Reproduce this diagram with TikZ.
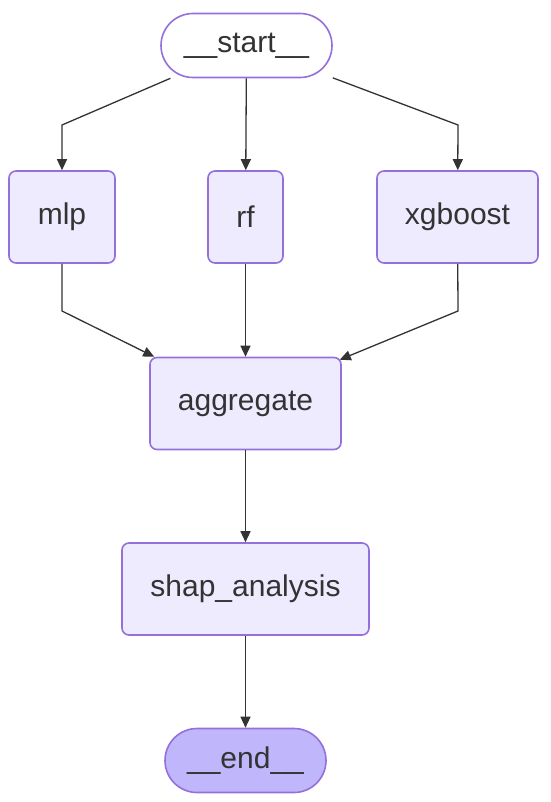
\documentclass[tikz,border=0pt]{standalone}
\usepackage{fontspec}
\setmainfont{Liberation Sans}
\usetikzlibrary{arrows.meta,calc}

\definecolor{nodefill}{HTML}{EEEBFF}
\definecolor{nodeline}{HTML}{9370DB}
\definecolor{endfill}{HTML}{BFB6FC}
\definecolor{inkgray}{HTML}{333333}

\begin{document}
\begin{tikzpicture}[
    x=1pt, y=-1pt,
    font=\fontsize{30}{36}\selectfont,
    >={Triangle[length=11pt,width=10pt]},
    task/.style={
        rectangle,
        rounded corners=7pt,
        draw=nodeline,
        fill=nodefill,
        line width=1.6pt,
        minimum height=92pt,
        text=inkgray,
        inner sep=0pt
    },
    terminal/.style={
        rectangle,
        rounded corners=32pt,
        draw=nodeline,
        line width=1.6pt,
        minimum height=64pt,
        text=inkgray,
        inner sep=0pt
    },
    flow/.style={->, line width=1.3pt, draw=inkgray}
]
\useasboundingbox (0,0) rectangle (550,802);

\node[terminal, fill=white, minimum width=171pt] (start) at (246.5,45.5) {\_\_start\_\_};

\node[task, minimum width=106pt] (mlp) at (62,217) {mlp};
\node[task, minimum width=75pt] (rf) at (245.5,217) {rf};
\node[task, minimum width=161pt] (xgboost) at (457.5,217) {xgboost};

\node[task, minimum width=191pt] (aggregate) at (245.5,403.5) {aggregate};
\node[task, minimum width=247pt] (shap) at (245.5,589) {shap\_analysis};

\node[terminal, fill=endfill, minimum width=161pt] (end) at (245.5,760.5) {\_\_end\_\_};

% bends of the side branches
\coordinate (mlpin) at (62,125);
\coordinate (xgbin) at (458,125);
\coordinate (mlpout) at (62,311);
\coordinate (xgbout) at (458,311);

\draw[flow] (start) -- (mlpin) -- (mlp);
\draw[flow] (start) -- (rf);
\draw[flow] (start) -- (xgbin) -- (xgboost);

\draw[flow] (mlp) -- (mlpout) -- ($(aggregate.north west)+(5,0)$);
\draw[flow] (rf) -- (aggregate);
\draw[flow] (xgboost) -- (xgbout) -- ($(aggregate.north east)+(-2,3)$);

\draw[flow] (aggregate) -- (shap);
\draw[flow] (shap) -- (end);

\end{tikzpicture}
\end{document}
